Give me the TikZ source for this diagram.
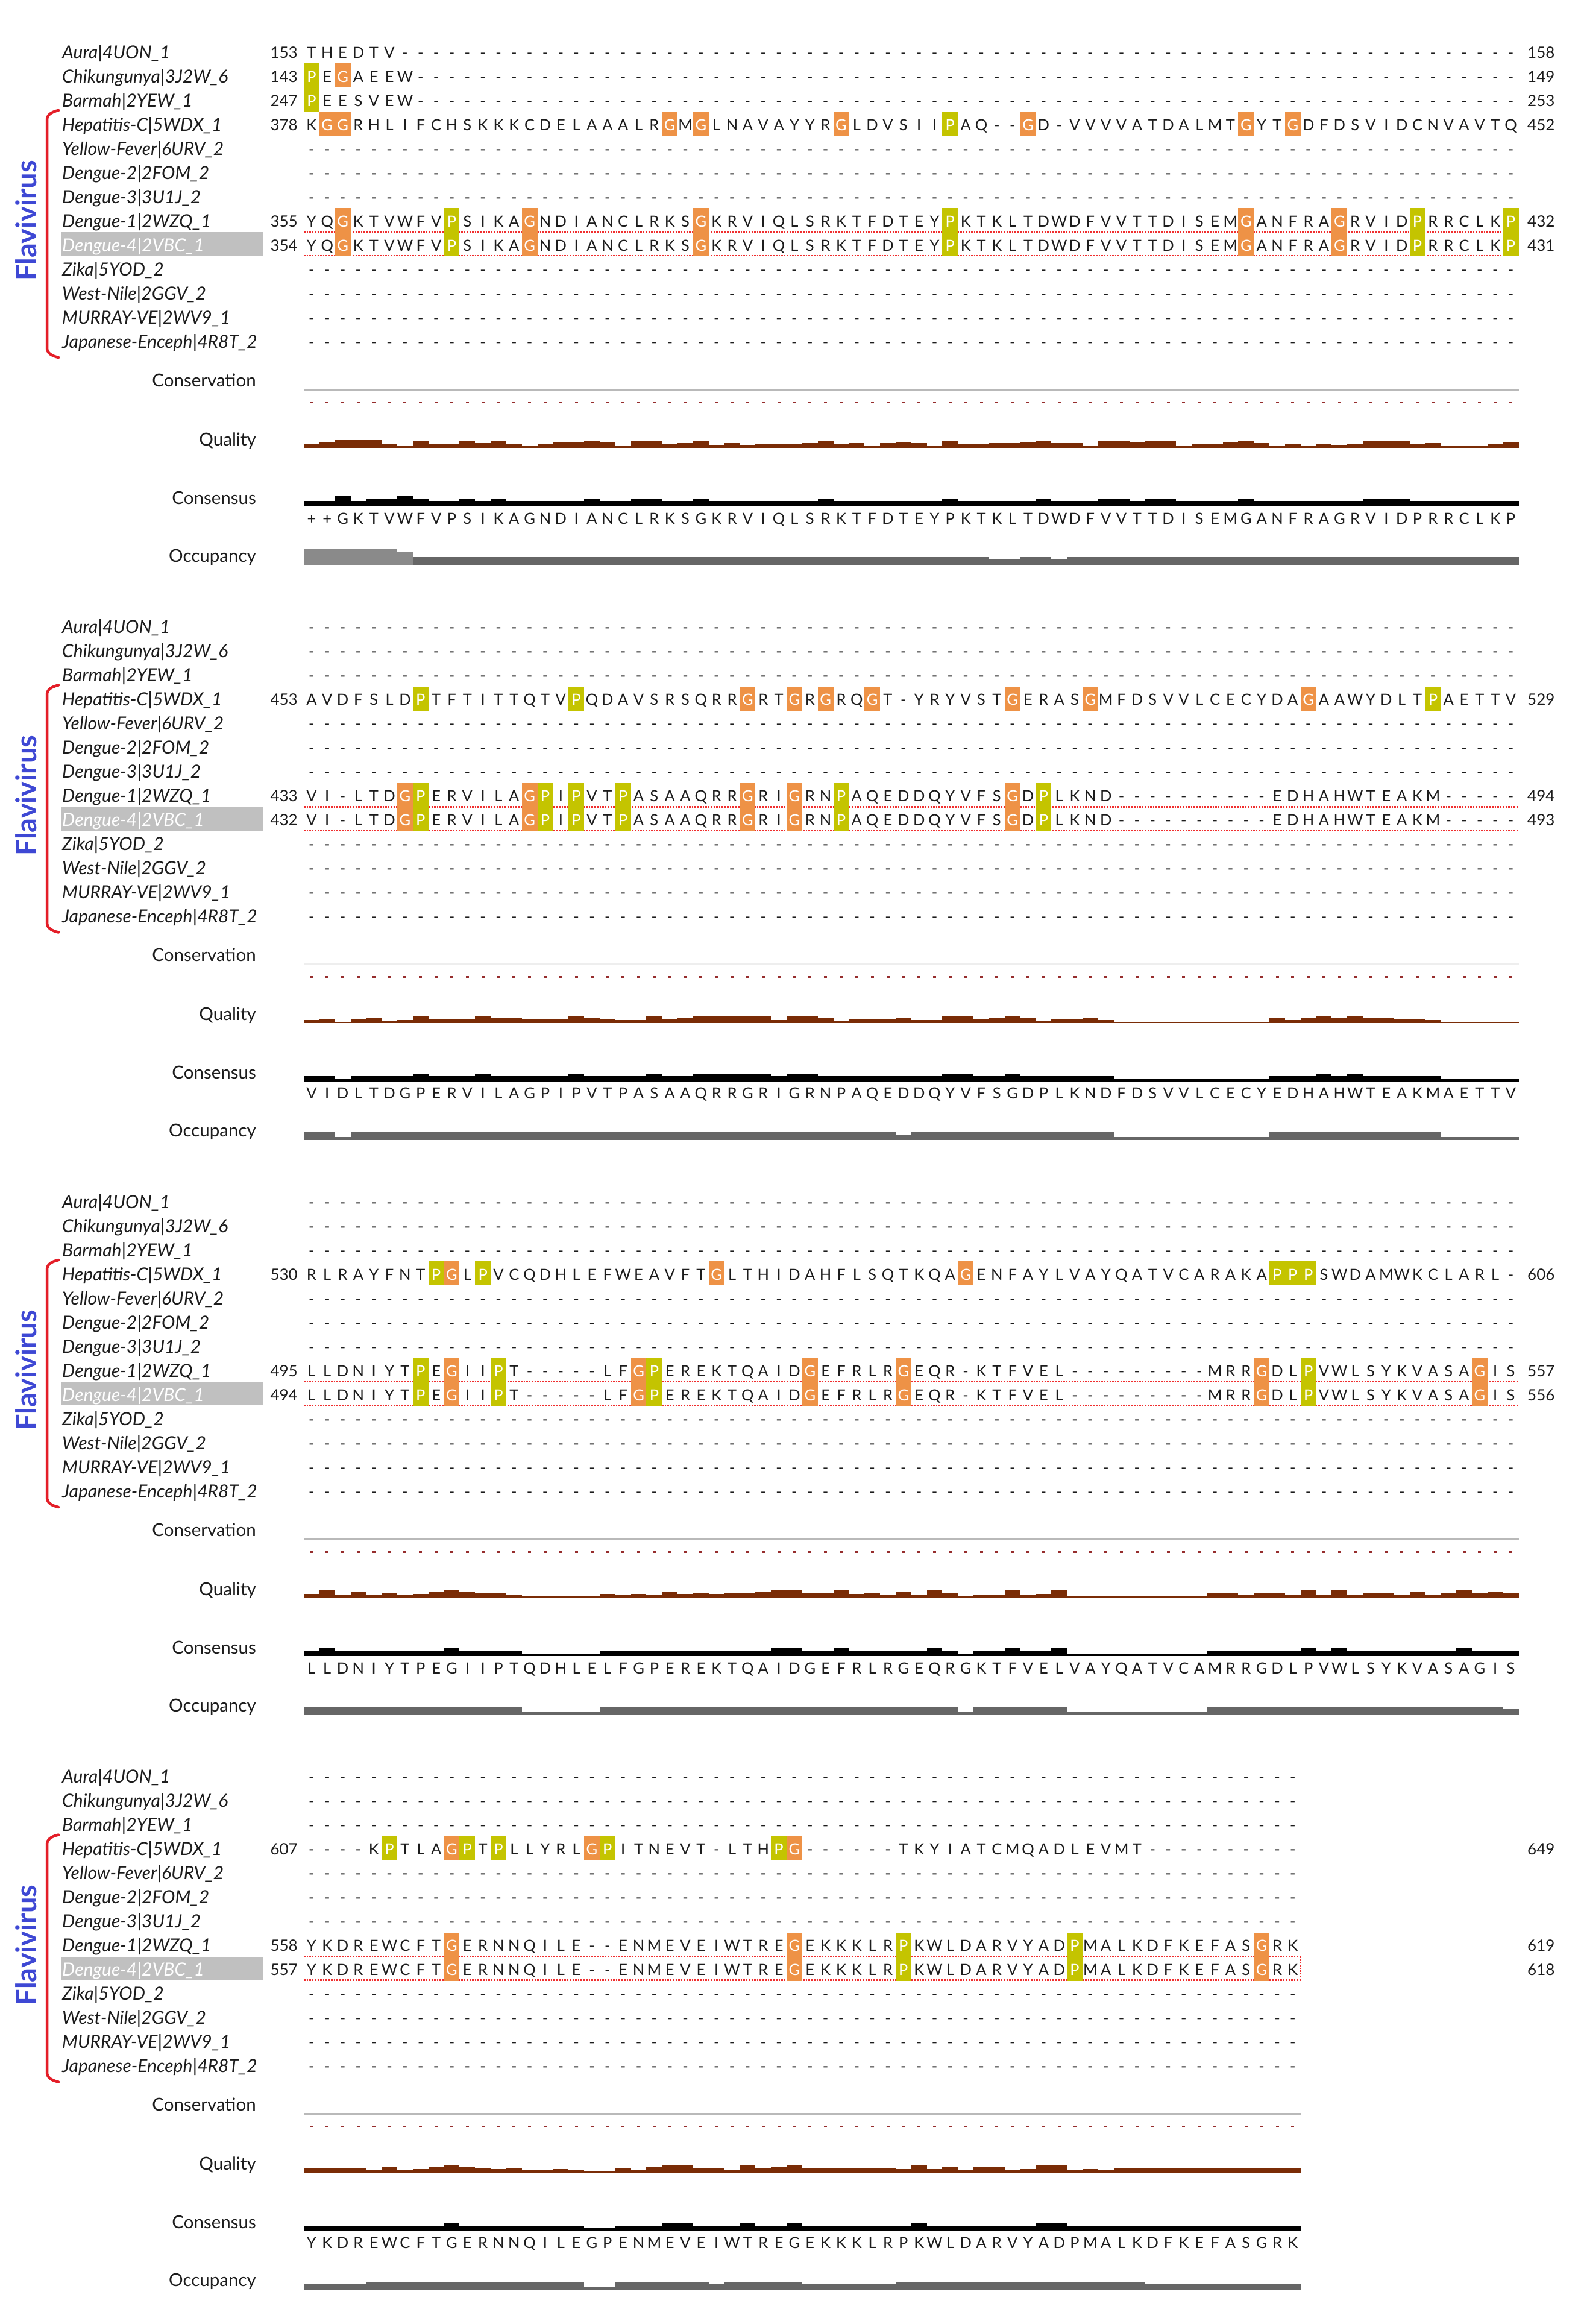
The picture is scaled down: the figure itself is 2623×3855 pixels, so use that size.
\documentclass[tikz,border=0pt]{standalone}
\usepackage{fontspec}
\setmainfont{Lato}
\setsansfont{Lato}
\definecolor{gcol}{RGB}{238,146,70}
\definecolor{pcol}{RGB}{196,196,0}
\definecolor{flav}{RGB}{62,72,212}
\definecolor{brkred}{RGB}{228,30,40}
\definecolor{qualc}{RGB}{122,44,6}
\definecolor{occc}{RGB}{102,102,102}
\definecolor{occl}{RGB}{138,138,138}
\definecolor{consdot}{RGB}{150,45,45}
\definecolor{selred}{RGB}{240,45,45}
\definecolor{namebox}{RGB}{192,192,192}
\definecolor{txt}{RGB}{28,28,28}
\definecolor{consgrey}{RGB}{185,185,185}
\definecolor{conslight}{RGB}{238,238,238}
\tikzset{
  seqch/.style={font=\fontsize{25.5}{25.5}\selectfont, inner sep=0pt, anchor=base, text=txt},
  namelbl/.style={font=\fontsize{30}{30}\selectfont\itshape, inner sep=0pt, anchor=base west, text=txt},
  numl/.style={font=\fontsize{26}{26}\selectfont, inner sep=0pt, anchor=base east, text=txt},
  numr/.style={font=\fontsize{26}{26}\selectfont, inner sep=0pt, anchor=base west, text=txt},
  annlbl/.style={font=\fontsize{29.5}{29.5}\selectfont, inner sep=0pt, anchor=base east, text=txt},
  flavlbl/.style={font=\fontsize{47}{47}\selectfont\bfseries, inner sep=0pt, rotate=90, text=flav},
  brk/.style={draw=brkred, line width=4.5pt, line cap=round},
  selline/.style={draw=selred, line width=2.2pt, dash pattern=on 2.5pt off 2pt},
}
\makeatletter
\newcount\sqcol \newcount\awcol \newcount\aw@c \newcount\aw@n \newcount\aw@t
\newif\ifsqhl \sqhltrue
\newcommand\seqrow[3]{\sqcol=#2\relax\@tfor\sq@c:=#3\do{\sq@one{#1}\advance\sqcol by 1\relax}}
\newcommand\sq@one[1]{%
  \pgfmathsetmacro\sq@x{516.92+25.84*\the\sqcol}%
  \ifsqhl
    \if\sq@c G\sq@box{#1}{gcol}\else
    \if\sq@c P\sq@box{#1}{pcol}\else
    \sq@txt{#1}\fi\fi
  \else\sq@txt{#1}\fi}
\newcommand\sq@box[2]{\fill[#2] (\sq@x-12.92,#1-22) rectangle (\sq@x+12.92,#1+18);
  \node[seqch,text=white] at (\sq@x,#1+9) {\sq@c};}
\newcommand\sq@txt[1]{\node[seqch] at (\sq@x,#1+9) {\sq@c};}
\newcommand\gaprow[3]{\foreach \gi in {#2,...,#3}{\node[seqch] at ({516.92+25.84*\gi},#1+9) {-};}}
% annotation bars
\newcommand\aw@draw[3]{%
  \pgfmathsetmacro\aw@xa{504+25.84*\the\awcol}%
  \pgfmathsetmacro\aw@xb{\aw@xa+25.84}%
  \fill[qualc] (\aw@xa,743) rectangle (\aw@xb,743-#1);
  \ifnum#2>0 \fill[black] (\aw@xa,840) rectangle (\aw@xb,840-4.33*#2);\fi
  \ifnum#3>4 \def\aw@oc{occl}\else\def\aw@oc{occc}\fi
  \ifnum#3>0 \fill[\aw@oc] (\aw@xa,937) rectangle (\aw@xb,937-4.33*#3);\fi}
\newcommand\annbar[4]{\awcol=#1\relax\aw@draw{#2}{#3}{#4}}
\newcommand\annwalk[3]{\awcol=#1\relax\aw@loop#2\aw@end#3\aw@end}
\def\aw@loop#1#2\aw@end#3#4\aw@end{%
  \aw@one#1#3%
  \advance\awcol by 1\relax
  \ifx\relax#2\relax\else\aw@loop#2\aw@end#4\aw@end\fi}
\def\aw@one#1#2{%
  \aw@n=0
  \if#1-\else\advance\aw@n by 1 \fi
  \if#2-\else\advance\aw@n by 2 \fi
  \if#2-%
    \if#1-\aw@c=0 \else\aw@c=1 \fi
    \def\aw@q{2}%
  \else
    \if#1-\aw@c=2 \def\aw@q{8}%
    \else
      \if#1#2\aw@c=3 \def\aw@q{12}%
      \else\aw@c=2 \aw@t=\numexpr`#1+`#2\relax
        \pgfmathtruncatemacro\aw@q{4+mod(\the\aw@t,6)}%
      \fi
    \fi
  \fi
  \aw@draw{\aw@q}{\the\aw@c}{\the\aw@n}}
\newcommand\blockcommon[3]{%
 \pgfmathsetmacro\bkend{504+25.84*(#1+1)}%
 \fill[namebox] (102,385) rectangle (436,424);
 \node[namelbl] (#2n0) at (103,97) {Aura|4UON\_1};
 \node[namelbl] (#2n1) at (103,137) {Chikungunya|3J2W\_6};
 \node[namelbl] (#2n2) at (103,177) {Barmah|2YEW\_1};
 \node[namelbl] (#2n3) at (103,217) {Hepatitis-C|5WDX\_1};
 \node[namelbl] (#2n4) at (103,257) {Yellow-Fever|6URV\_2};
 \node[namelbl] (#2n5) at (103,297) {Dengue-2|2FOM\_2};
 \node[namelbl] (#2n6) at (103,337) {Dengue-3|3U1J\_2};
 \node[namelbl] (#2n7) at (103,377) {Dengue-1|2WZQ\_1};
 \node[namelbl,text=white] (#2n8) at (103,417) {Dengue-4|2VBC\_1};
 \node[namelbl] (#2n9) at (103,457) {Zika|5YOD\_2};
 \node[namelbl] (#2n10) at (103,497) {West-Nile|2GGV\_2};
 \node[namelbl] (#2n11) at (103,537) {MURRAY-VE|2WV9\_1};
 \node[namelbl] (#2n12) at (103,577) {Japanese-Enceph|4R8T\_2};
 \node[flavlbl] (#2fl) at (43,366) {Flavivirus};
 \draw[brk] (97,183) .. controls (84,186) and (78,191) .. (78,199) -- (78,577) .. controls (78,585) and (84,590) .. (97,593);
 \node[annlbl] (#2c) at (425,641) {Conservation};
 \node[annlbl] (#2q) at (425,739) {Quality};
 \node[annlbl] (#2s) at (425,836) {Consensus};
 \node[annlbl] (#2o) at (425,932) {Occupancy};
 \fill[#3] (504,644.5) rectangle (\bkend,647.5);
 \foreach \ci in {0,...,#1}{\fill[consdot] ({514.42+25.84*\ci},665.5) rectangle ++(5,3);}
 \draw[selline] (504,385) -- (\bkend,385);
 \draw[selline] (504,424) -- (\bkend,424);
}
\makeatother
\begin{document}
\begin{tikzpicture}[x=1pt,y=-1pt]
\useasboundingbox (0,0) rectangle (2623,3855);
\fill[white] (0,0) rectangle (2623,3855);
% ---------------- block 1 ----------------
\begin{scope}
\blockcommon{77}{a}{consgrey}
\seqrow{87}{0}{THEDTV}\gaprow{87}{6}{77}
\seqrow{127}{0}{PEGAEEW}\gaprow{127}{7}{77}
\seqrow{167}{0}{PEESVEW}\gaprow{167}{7}{77}
\seqrow{207}{0}{KGGRHLIFCHSKKKCDELAAALRGMGLNAVAYYRGLDVSIIPAQ--GD-VVVVATDALMTGYTGDFDSVIDCNVAVTQ}
\gaprow{247}{0}{77}\gaprow{287}{0}{77}\gaprow{327}{0}{77}
\seqrow{367}{0}{YQGKTVWFVPSIKAGNDIANCLRKSGKRVIQLSRKTFDTEYPKTKLTDWDFVVTTDISEMGANFRAGRVIDPRRCLKP}
\seqrow{407}{0}{YQGKTVWFVPSIKAGNDIANCLRKSGKRVIQLSRKTFDTEYPKTKLTDWDFVVTTDISEMGANFRAGRVIDPRRCLKP}
\gaprow{447}{0}{77}\gaprow{487}{0}{77}\gaprow{527}{0}{77}\gaprow{567}{0}{77}
\node[numl] (al0) at (494,96) {153}; \node[numr] (ar0) at (2534,96) {158};
\node[numl] (al1) at (494,136) {143}; \node[numr] (ar1) at (2534,136) {149};
\node[numl] (al2) at (494,176) {247}; \node[numr] (ar2) at (2534,176) {253};
\node[numl] (al3) at (494,216) {378}; \node[numr] (ar3) at (2534,216) {452};
\node[numl] (al7) at (494,376) {355}; \node[numr] (ar7) at (2534,376) {432};
\node[numl] (al8) at (494,416) {354}; \node[numr] (ar8) at (2534,416) {431};
\annbar{0}{7}{2}{6}\annbar{1}{10}{2}{6}\annbar{2}{13}{4}{6}\annbar{3}{13}{2}{6}
\annbar{4}{13}{3}{6}\annbar{5}{7}{3}{6}\annbar{6}{4}{4}{5}
\annwalk{7}{FCHSKKKCDELAAALRGMGLNAVAYYRGLDVSIIPAQ--GD-VVVVATDALMTGYTGDFDSVIDCNVAVTQ}{FVPSIKAGNDIANCLRKSGKRVIQLSRKTFDTEYPKTKLTDWDFVVTTDISEMGANFRAGRVIDPRRCLKP}
{\sqhlfalse\seqrow{860}{0}{++GKTVWFVPSIKAGNDIANCLRKSGKRVIQLSRKTFDTEYPKTKLTDWDFVVTTDISEMGANFRAGRVIDPRRCLKP}}
\end{scope}
% ---------------- block 2 ----------------
\begin{scope}[yshift=-953.5pt]
\blockcommon{77}{b}{conslight}
\gaprow{87}{0}{77}\gaprow{127}{0}{77}\gaprow{167}{0}{77}
\seqrow{207}{0}{AVDFSLDPTFTITTQTVPQDAVSRSQRRGRTGRGRQGT-YRYVSTGERASGMFDSVVLCECYDAGAAWYDLTPAETTV}
\gaprow{247}{0}{77}\gaprow{287}{0}{77}\gaprow{327}{0}{77}
\seqrow{367}{0}{VI-LTDGPERVILAGPIPVTPASAAQRRGRIGRNPAQEDDQYVFSGDPLKND----------EDHAHWTEAKM-----}
\seqrow{407}{0}{VI-LTDGPERVILAGPIPVTPASAAQRRGRIGRNPAQEDDQYVFSGDPLKND----------EDHAHWTEAKM-----}
\gaprow{447}{0}{77}\gaprow{487}{0}{77}\gaprow{527}{0}{77}\gaprow{567}{0}{77}
\node[numl] (bl3) at (494,216) {453}; \node[numr] (br3) at (2534,216) {529};
\node[numl] (bl7) at (494,376) {433}; \node[numr] (br7) at (2534,376) {494};
\node[numl] (bl8) at (494,416) {432}; \node[numr] (br8) at (2534,416) {493};
\annwalk{0}{AVDFSLDPTFTITTQTVPQDAVSRSQRRGRTGRGRQGT-YRYVSTGERASGMFDSVVLCECYDAGAAWYDLTPAETTV}{VI-LTDGPERVILAGPIPVTPASAAQRRGRIGRNPAQEDDQYVFSGDPLKND----------EDHAHWTEAKM-----}
{\sqhlfalse\seqrow{860}{0}{VIDLTDGPERVILAGPIPVTPASAAQRRGRIGRNPAQEDDQYVFSGDPLKNDFDSVVLCECYEDHAHWTEAKMAETTV}}
\end{scope}
% ---------------- block 3 ----------------
\begin{scope}[yshift=-1907pt]
\blockcommon{77}{c}{consgrey}
\gaprow{87}{0}{77}\gaprow{127}{0}{77}\gaprow{167}{0}{77}
\seqrow{207}{0}{RLRAYFNTPGLPVCQDHLEFWEAVFTGLTHIDAHFLSQTKQAGENFAYLVAYQATVCARAKAPPPSWDAMWKCLARL-}
\gaprow{247}{0}{77}\gaprow{287}{0}{77}\gaprow{327}{0}{77}
\seqrow{367}{0}{LLDNIYTPEGIIPT-----LFGPEREKTQAIDGEFRLRGEQR-KTFVEL---------MRRGDLPVWLSYKVASAGIS}
\seqrow{407}{0}{LLDNIYTPEGIIPT-----LFGPEREKTQAIDGEFRLRGEQR-KTFVEL---------MRRGDLPVWLSYKVASAGIS}
\gaprow{447}{0}{77}\gaprow{487}{0}{77}\gaprow{527}{0}{77}\gaprow{567}{0}{77}
\node[numl] (cl3) at (494,216) {530}; \node[numr] (cr3) at (2534,216) {606};
\node[numl] (cl7) at (494,376) {495}; \node[numr] (cr7) at (2534,376) {557};
\node[numl] (cl8) at (494,416) {494}; \node[numr] (cr8) at (2534,416) {556};
\annwalk{0}{RLRAYFNTPGLPVCQDHLEFWEAVFTGLTHIDAHFLSQTKQAGENFAYLVAYQATVCARAKAPPPSWDAMWKCLARL-}{LLDNIYTPEGIIPT-----LFGPEREKTQAIDGEFRLRGEQR-KTFVEL---------MRRGDLPVWLSYKVASAGIS}
{\sqhlfalse\seqrow{860}{0}{LLDNIYTPEGIIPTQDHLELFGPEREKTQAIDGEFRLRGEQRGKTFVELVAYQATVCAMRRGDLPVWLSYKVASAGIS}}
\end{scope}
% ---------------- block 4 ----------------
\begin{scope}[yshift=-2860.5pt]
\blockcommon{63}{d}{consgrey}
\draw[selline] (2158,385) -- (2158,424);
\gaprow{87}{0}{63}\gaprow{127}{0}{63}\gaprow{167}{0}{63}
\seqrow{207}{0}{----KPTLAGPTPLLYRLGPITNEVT-LTHPG------TKYIATCMQADLEVMT----------}
\gaprow{247}{0}{63}\gaprow{287}{0}{63}\gaprow{327}{0}{63}
\seqrow{367}{0}{YKDREWCFTGERNNQILE--ENMEVEIWTREGEKKKLRPKWLDARVYADPMALKDFKEFASGRK}
\seqrow{407}{0}{YKDREWCFTGERNNQILE--ENMEVEIWTREGEKKKLRPKWLDARVYADPMALKDFKEFASGRK}
\gaprow{447}{0}{63}\gaprow{487}{0}{63}\gaprow{527}{0}{63}\gaprow{567}{0}{63}
\node[numl] (dl3) at (494,216) {607}; \node[numr] (dr3) at (2534,216) {649};
\node[numl] (dl7) at (494,376) {558}; \node[numr] (dr7) at (2534,376) {619};
\node[numl] (dl8) at (494,416) {557}; \node[numr] (dr8) at (2534,416) {618};
\annwalk{0}{----KPTLAGPTPLLYRLGPITNEVT-LTHPG------TKYIATCMQADLEVMT----------}{YKDREWCFTGERNNQILE--ENMEVEIWTREGEKKKLRPKWLDARVYADPMALKDFKEFASGRK}
{\sqhlfalse\seqrow{860}{0}{YKDREWCFTGERNNQILEGPENMEVEIWTREGEKKKLRPKWLDARVYADPMALKDFKEFASGRK}}
\end{scope}
\end{tikzpicture}
\end{document}
